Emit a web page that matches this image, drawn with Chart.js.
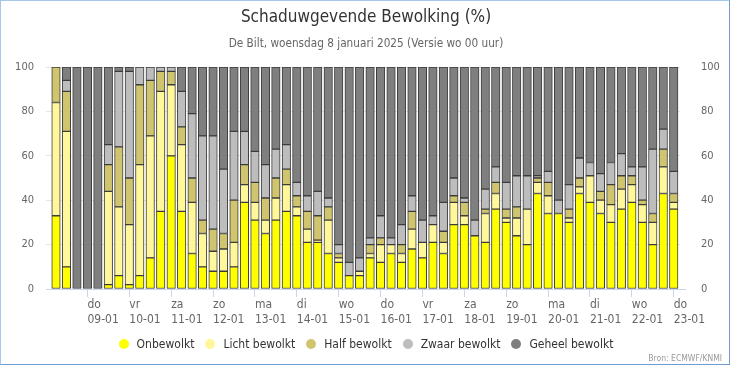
<!DOCTYPE html>
<html>
<head>
<meta charset="utf-8">
<script src="https://cdn.jsdelivr.net/npm/chart.js@4.4.1/dist/chart.umd.min.js"></script>
<style>
html,body{margin:0;padding:0;background:#fff;}
#wrap{position:relative;width:732px;height:366px;overflow:hidden;font-family:"DejaVu Sans Condensed","DejaVu Sans",sans-serif;}
#c{position:absolute;left:0;top:0;}
#title{position:absolute;left:0;top:6px;width:732px;text-align:center;font-size:17px;color:#333;white-space:nowrap;}
#subtitle{position:absolute;left:0;top:36px;width:732px;text-align:center;font-size:11.7px;color:#666;white-space:nowrap;}
#legend{position:absolute;top:337px;left:0;width:732px;display:flex;justify-content:center;font-size:12px;color:#333;white-space:nowrap;}
.item{display:flex;align-items:center;margin:0 5.5px;}
.dot{width:10px;height:10px;border-radius:50%;margin-right:8px;}
#credit{position:absolute;right:10px;top:353px;font-size:8.5px;color:#999;}
#frame{position:absolute;left:0;top:0;width:728px;height:363px;border:1px solid #a6c6ea;border-right-color:#6f9bd1;border-bottom-color:#6f9bd1;pointer-events:none;}
</style>
</head>
<body>
<div id="wrap">
  <canvas id="c" width="732" height="366"></canvas>
  <div id="title">Schaduwgevende Bewolking (%)</div>
  <div id="subtitle">De Bilt, woensdag 8 januari 2025 (Versie wo 00 uur)</div>
  <div id="legend"></div>
  <div id="credit">Bron: ECMWF/KNMI</div>
  <div id="frame"></div>
</div>
<script>
// hours after 08-01 00:00 (6-hourly)
const hours = [6,12,18,24,30,36,42,48,54,60,66,72,78,84,90,96,102,108,114,120,
  126,132,138,144,150,156,162,168,174,180,186,192,198,204,210,216,222,228,234,240,
  246,252,258,264,270,276,282,288,294,300,306,312,318,324,330,336,342,348,354,360];

const seriesNames = ['Onbewolkt','Licht bewolkt','Half bewolkt','Zwaar bewolkt','Geheel bewolkt'];
const seriesColors = ['#ffff00','#fff799','#d0c56e','#bdbdbd','#7f7f7f'];

const onbewolkt = [33,10,0,0,0,2,6,2,6,14,35,60,35,16,10,8,8,10,39,31,
  25,31,35,33,21,21,16,12,6,6,14,12,16,12,18,14,21,16,29,29,
  24,21,36,30,24,20,43,34,34,30,43,39,34,30,36,39,30,20,43,36];
const lichtBewolkt = [51,61,0,0,0,42,31,27,50,55,54,32,30,23,15,9,10,11,8,8,
  6,10,12,4,6,1,15,2,0,2,2,8,4,4,9,7,8,5,10,4,
  0,13,7,2,8,16,5,8,0,2,3,12,6,8,9,8,8,10,12,3];
const halfBewolkt = [16,18,0,0,0,12,27,21,36,25,9,6,8,11,6,10,7,19,9,9,
  10,9,7,5,8,11,6,2,0,0,4,3,0,4,8,0,0,5,3,6,
  0,2,5,4,5,0,2,6,0,4,4,0,4,9,6,4,2,4,8,4];
const zwaarBewolkt = [0,5,0,0,0,9,34,48,8,6,2,2,16,29,38,42,29,31,15,14,
  15,13,11,6,7,11,4,4,6,6,3,10,3,9,7,10,4,13,8,2,
  7,9,7,12,14,15,1,5,6,11,9,6,8,10,10,4,15,29,9,10];
const geheelBewolkt = [0,6,100,100,100,35,2,2,0,0,0,0,11,21,31,31,46,29,29,38,
  44,37,35,52,58,56,59,80,88,86,77,67,77,71,58,69,67,61,50,59,
  69,55,45,52,49,49,49,47,60,53,41,43,48,43,39,45,45,37,28,47];

const tickHours = [24,48,72,96,120,144,168,192,216,240,264,288,312,336,360];
const dayNames = ['do','vr','za','zo','ma','di','wo','do','vr','za','zo','ma','di','wo','do'];
const dateLabels = ['09-01','10-01','11-01','12-01','13-01','14-01','15-01','16-01','17-01','18-01','19-01','20-01','21-01','22-01','23-01'];

const yTicks = [0,20,40,60,80,100];

const seriesValues = [onbewolkt, lichtBewolkt, halfBewolkt, zwaarBewolkt, geheelBewolkt];

// HTML legend built from the series names / colours
const leg = document.getElementById('legend');
seriesNames.forEach((n,i)=>{
  const it = document.createElement('div'); it.className='item';
  const d = document.createElement('span'); d.className='dot'; d.style.background=seriesColors[i];
  const t = document.createElement('span'); t.textContent = n;
  it.appendChild(d); it.appendChild(t); leg.appendChild(it);
});

const FONT = '"DejaVu Sans Condensed","DejaVu Sans",sans-serif';

// stacked segments as floating bars [bottom, top] built from the series arrays
const datasets = seriesNames.map((name,i)=>({
  label: name,
  data: hours.map((h,j)=>{
    let lo = 0;
    for (let k = 0; k < i; k++) lo += seriesValues[k][j];
    const v = seriesValues[i][j];
    return { x: h, y: v > 0 ? [lo, lo + v] : null };
  }),
  backgroundColor: seriesColors[i],
  borderColor: '#3c3c3c',
  borderWidth: 1,
  borderSkipped: false,
  grouped: false,
  barThickness: 8.5
}));

const axisExtend = {
  id: 'axisExtend',
  afterDraw(chart) {
    const {ctx, chartArea} = chart;
    ctx.save();
    ctx.strokeStyle = '#ccd6eb';
    ctx.lineWidth = 1;
    ctx.beginPath();
    ctx.moveTo(chartArea.right, chartArea.bottom + 0.5);
    ctx.lineTo(chartArea.right + 6, chartArea.bottom + 0.5);
    ctx.stroke();
    ctx.restore();
  }
};

new Chart(document.getElementById('c'), {
  type: 'bar',
  data: { datasets },
  plugins: [axisExtend],
  options: {
    responsive: false,
    animation: false,
    layout: { padding: { top: 67, bottom: 0, left: 0, right: 0 } },
    plugins: { legend: { display: false } },
    scales: {
      x: {
        type: 'linear', offset: false,
        min: 0.27, max: 363.6,
        afterBuildTicks: s => { s.ticks = tickHours.map(v => ({ value: v })); },
        afterFit: s => { s.height = 77; },
        ticks: {
          autoSkip: false, maxRotation: 0, minRotation: 0, align: 'start', padding: 1,
          color: '#666', font: { family: FONT, size: 12, lineHeight: 1.2 },
          callback: v => { const i = tickHours.indexOf(v); return i < 0 ? '' : [dayNames[i], dateLabels[i]]; }
        },
        grid: { display: true, drawOnChartArea: false, drawTicks: true, tickLength: 8, color: '#ccd6eb', offset: false },
        border: { display: true, color: '#ccd6eb' }
      },
      y: {
        position: 'left', min: 0, max: 100,
        afterBuildTicks: s => { s.ticks = yTicks.map(v => ({ value: v })); },
        afterFit: s => { s.width = 46; },
        ticks: { color: '#666', padding: 12, font: { family: FONT, size: 11 } },
        grid: { color: '#e6e6e6', drawTicks: false },
        border: { display: false }
      },
      y2: {
        position: 'right', min: 0, max: 100,
        afterBuildTicks: s => { s.ticks = yTicks.map(v => ({ value: v })); },
        afterFit: s => { s.width = 52; },
        ticks: { color: '#666', padding: 21, font: { family: FONT, size: 11 } },
        grid: { display: false, drawTicks: false },
        border: { display: false }
      }
    }
  }
});
</script>
</body>
</html>
